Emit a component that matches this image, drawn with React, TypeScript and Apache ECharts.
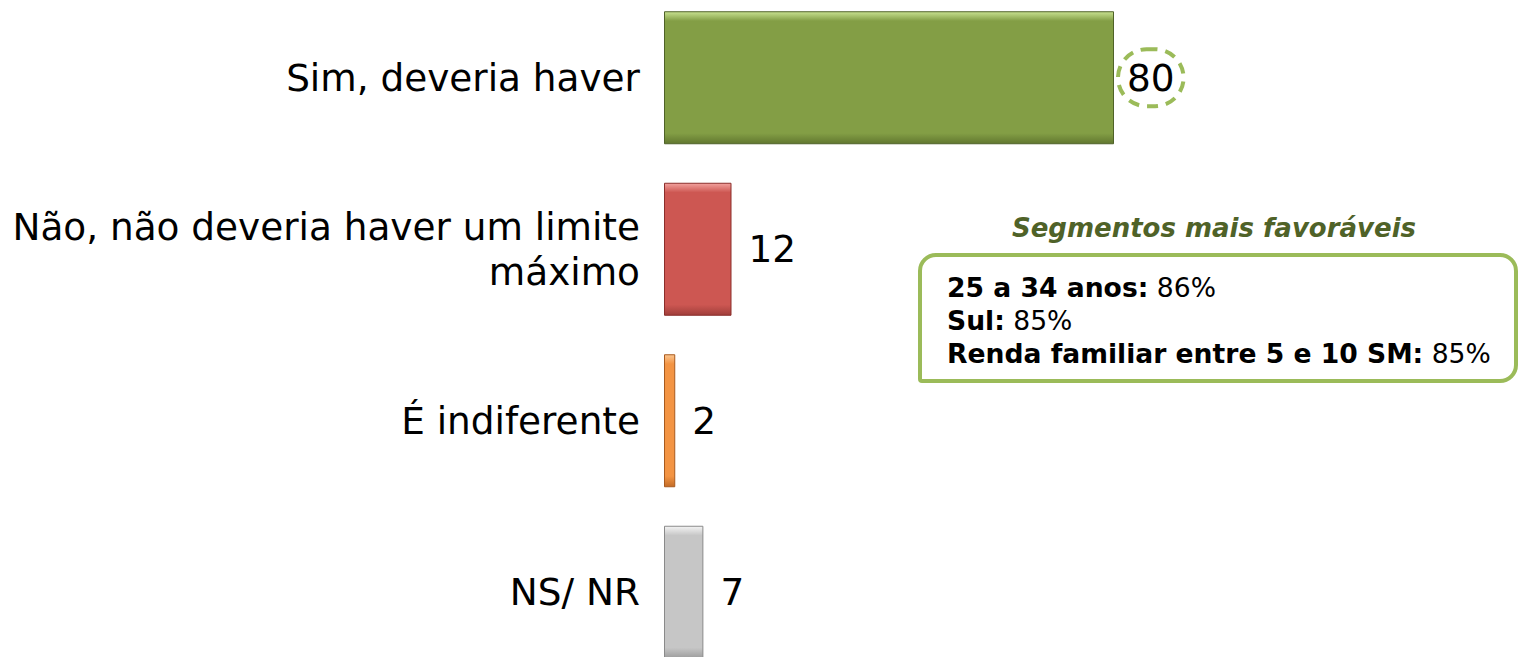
import React, { useEffect, useRef } from "react";
import * as echarts from "echarts";

const categories = [
  "Sim, deveria haver",
  "Não, não deveria haver um limite\nmáximo",
  "É indiferente",
  "NS/ NR",
];
const values = [80, 12, 2, 7];

const barMain = ["#839E45", "#CD5752", "#F39443", "#C6C6C6"];
const barLight = ["#C8E290", "#F2A29E", "#FBC690", "#F4F4F4"];
const barDark = ["#61772F", "#A03E3A", "#C26B26", "#9C9C9C"];
const barBorder = ["#4F6228", "#8B2E2B", "#A85A1E", "#8A8A8A"];

const segmentTitle = "Segmentos mais favoráveis";
const segmentLabels = ["25 a 34 anos:", "Sul:", "Renda familiar entre 5 e 10 SM:"];
const segmentValues = ["86%", "85%", "85%"];

const FONT = "DejaVu Sans";
const OFFSET_Y = 8;

export default function App() {
  const ref = useRef<HTMLDivElement>(null);

  useEffect(() => {
    if (!ref.current) return;
    const chart = echarts.init(ref.current, null, { renderer: "svg" });

    const data = values.map((v, i) => {
      const item: any = {
        value: v,
        itemStyle: {
          color: new echarts.graphic.LinearGradient(0, 0, 0, 1, [
            { offset: 0, color: barLight[i] },
            { offset: 0.07, color: barMain[i] },
            { offset: 0.92, color: barMain[i] },
            { offset: 1, color: barDark[i] },
          ]),
          borderColor: barBorder[i],
          borderWidth: 1,
        },
      };
      if (i === 0) {
        item.label = {
          distance: 4,
          padding: [10, 9, 10, 9],
          borderColor: "#9BBB59",
          borderWidth: 4,
          borderType: [11, 8],
          borderRadius: 32,
        };
      }
      return item;
    });

    const richText = segmentLabels
      .map((l, i) => `{b|${l}} {n|${segmentValues[i]}}`)
      .join("\n");

    chart.setOption({
      animation: false,
      backgroundColor: "#ffffff",
      grid: { left: 664, right: 404, top: 0, bottom: 0, containLabel: false },
      xAxis: { type: "value", min: 0, max: 80, show: false },
      yAxis: {
        type: "category",
        data: categories,
        inverse: true,
        axisLine: { show: false },
        axisTick: { show: false },
        splitLine: { show: false },
        axisLabel: {
          fontSize: 37.4,
          fontFamily: FONT,
          color: "#000",
          margin: 24,
          lineHeight: 45,
          align: "right",
        },
      },
      series: [
        {
          type: "bar",
          data,
          barWidth: 133,
          label: {
            show: true,
            position: "right",
            distance: 17,
            fontSize: 37.4,
            fontFamily: FONT,
            color: "#000",
          },
        },
      ],
      graphic: [
        {
          type: "text",
          x: 1214,
          y: 228 + OFFSET_Y,
          style: {
            text: segmentTitle,
            fontSize: 26,
            fontWeight: "bold",
            fontStyle: "italic",
            fontFamily: FONT,
            fill: "#4F6228",
            align: "center",
            verticalAlign: "middle",
          },
        },
        {
          type: "rect",
          shape: { x: 920, y: 255 + OFFSET_Y, width: 596, height: 126, r: [16, 16, 16, 2] },
          style: { fill: "#ffffff", stroke: "#9BBB59", lineWidth: 4 },
        },
        {
          type: "text",
          x: 947,
          y: 271 + OFFSET_Y,
          style: {
            text: richText,
            fontSize: 26.6,
            fontFamily: FONT,
            fill: "#000",
            align: "left",
            verticalAlign: "top",
            lineHeight: 33,
            rich: {
              b: { fontSize: 26.6, fontFamily: FONT, fontWeight: "bold", fill: "#000", lineHeight: 33 },
              n: { fontSize: 26.6, fontFamily: FONT, fill: "#000", lineHeight: 33 },
            },
          },
        },
      ],
    });

    return () => chart.dispose();
  }, []);

  return (
    <div
      ref={ref}
      style={{ position: "fixed", left: 0, top: -OFFSET_Y, width: 1518, height: 686 }}
    />
  );
}
